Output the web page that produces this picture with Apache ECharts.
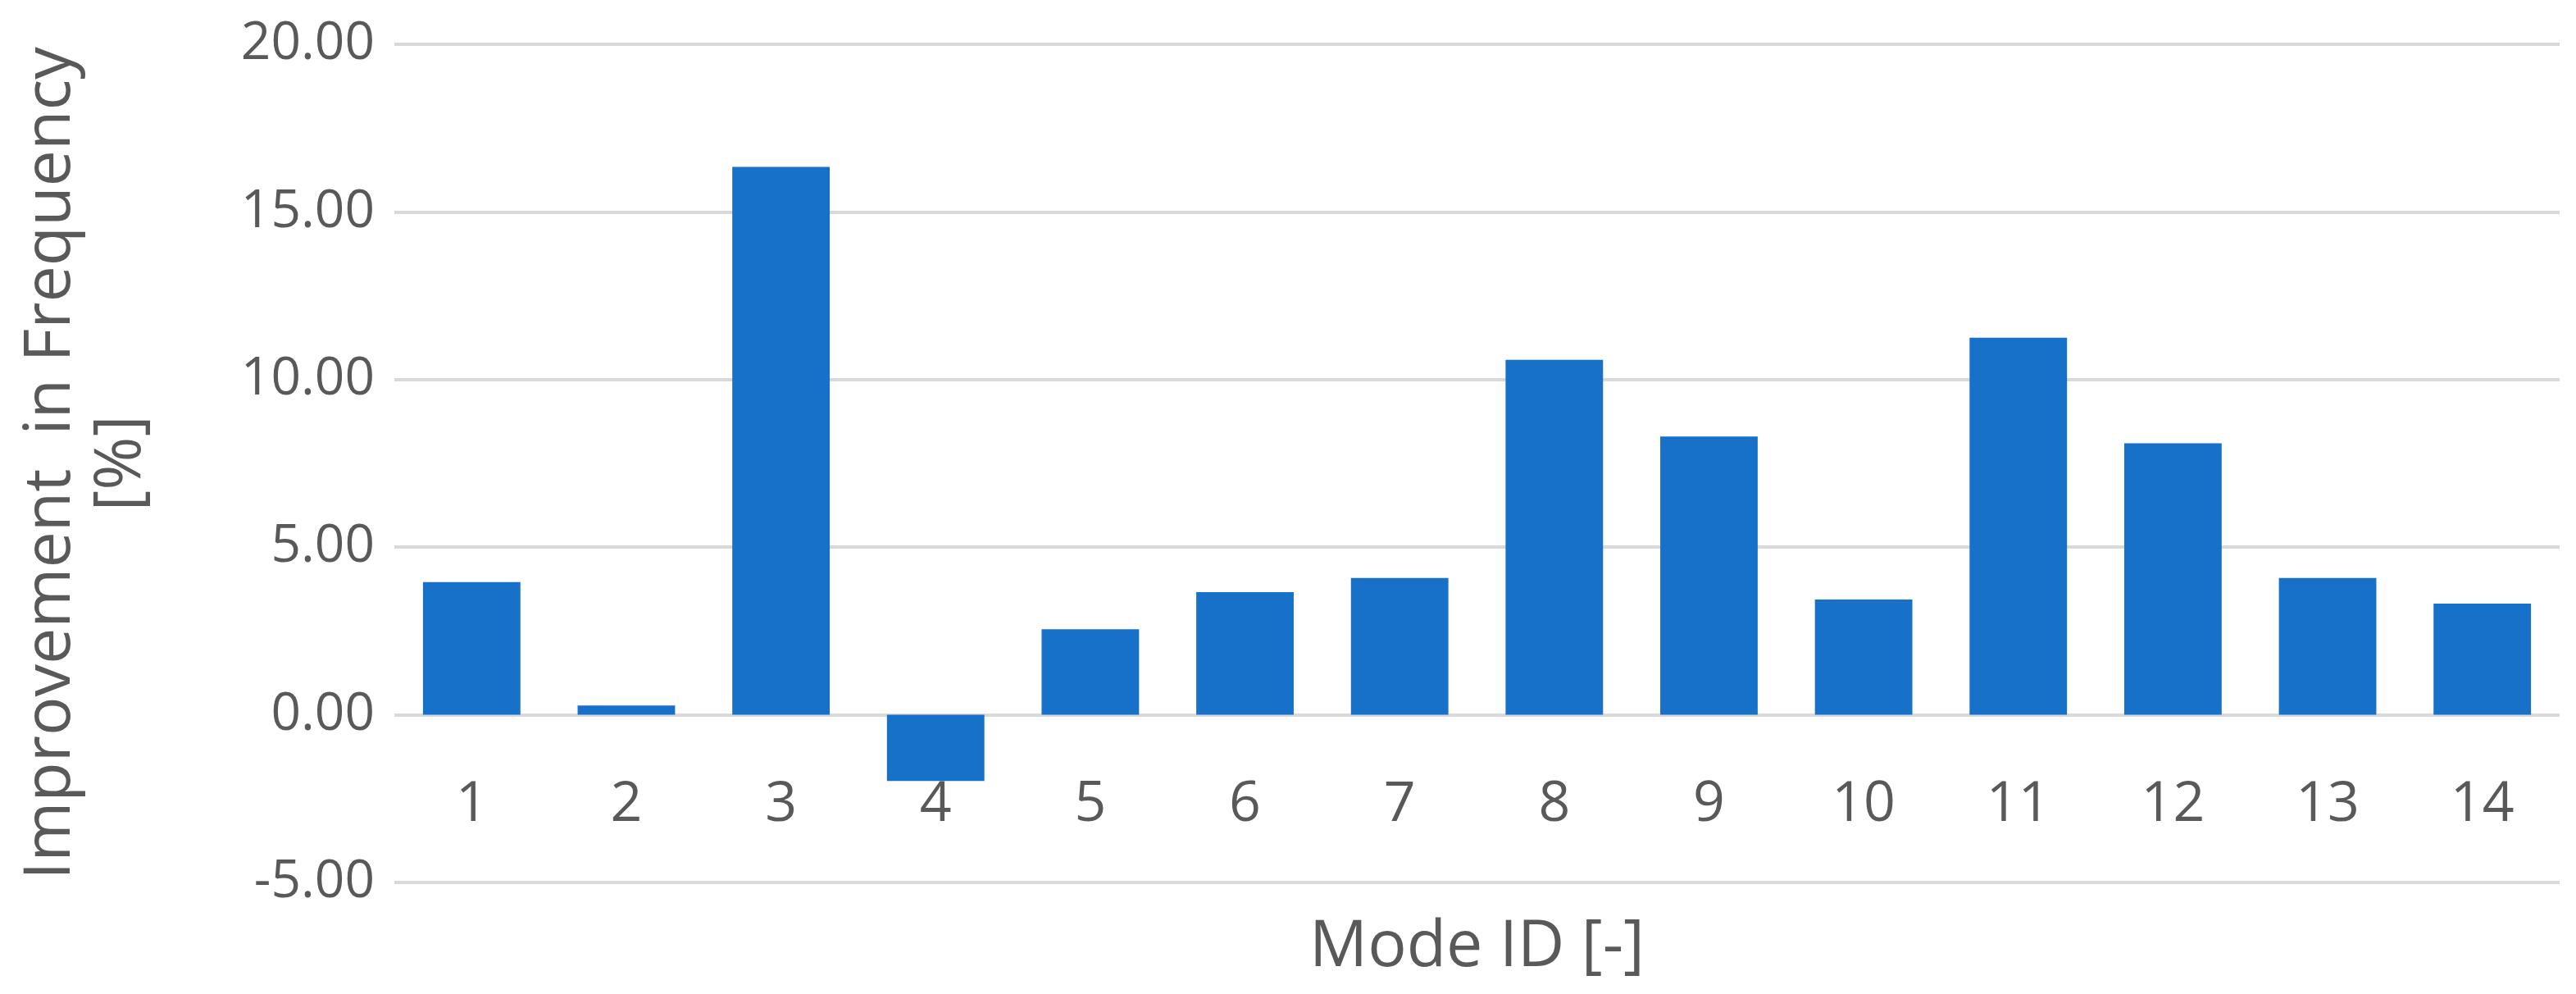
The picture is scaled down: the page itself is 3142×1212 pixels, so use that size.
<!DOCTYPE html>
<html>
<head>
<meta charset="utf-8">
<script src="https://cdn.jsdelivr.net/npm/echarts@6/dist/echarts.min.js"></script>
<style>
html,body{margin:0;padding:0;background:#fff;}
#chart{width:3142px;height:1212px;}
</style>
</head>
<body>
<div id="chart"></div>
<script>
const categories = ['1','2','3','4','5','6','7','8','9','10','11','12','13','14'];
const improvement = [3.96, 0.28, 16.34, -1.97, 2.55, 3.66, 4.08, 10.59, 8.30, 3.44, 11.25, 8.10, 4.08, 3.32];
const yTicks = { min: -5, max: 20, interval: 5 };
const xTitle = 'Mode ID [-]';
const yTitle = 'Improvement  in Frequency\n[%]';

const FONT = '"Open Sans", "Noto Sans", sans-serif';
const TXT = '#595959';
const chart = echarts.init(document.getElementById('chart'));
chart.setOption({
  backgroundColor: '#ffffff',
  animation: false,
  grid: { left: 481, right: 20, top: 54, bottom: 136, containLabel: false, outerBoundsMode: 'none' },
  xAxis: {
    type: 'category',
    data: categories,
    axisLine: { show: false, onZero: false },
    axisTick: { show: false },
    axisLabel: { color: TXT, fontSize: 68, fontFamily: FONT, margin: -128 },
    name: xTitle,
    nameLocation: 'middle',
    nameGap: 40,
    nameTextStyle: { color: TXT, fontSize: 79, fontFamily: FONT }
  },
  yAxis: {
    type: 'value',
    min: yTicks.min, max: yTicks.max, interval: yTicks.interval,
    axisLine: { show: false },
    axisTick: { show: false },
    splitLine: { lineStyle: { color: '#D9D9D9', width: 4 } },
    axisLabel: { color: TXT, fontSize: 64, fontFamily: FONT, margin: 24,
      formatter: v => v.toFixed(2) },
    name: yTitle,
    nameLocation: 'middle',
    nameRotate: 90,
    nameGap: 290,
    nameTextStyle: { color: TXT, fontSize: 79, fontFamily: FONT, lineHeight: 86, align: 'center' }
  },
  series: [{
    type: 'bar',
    data: improvement,
    barWidth: '63%',
    itemStyle: { color: '#1771C9' }
  }]
});
</script>
</body>
</html>
